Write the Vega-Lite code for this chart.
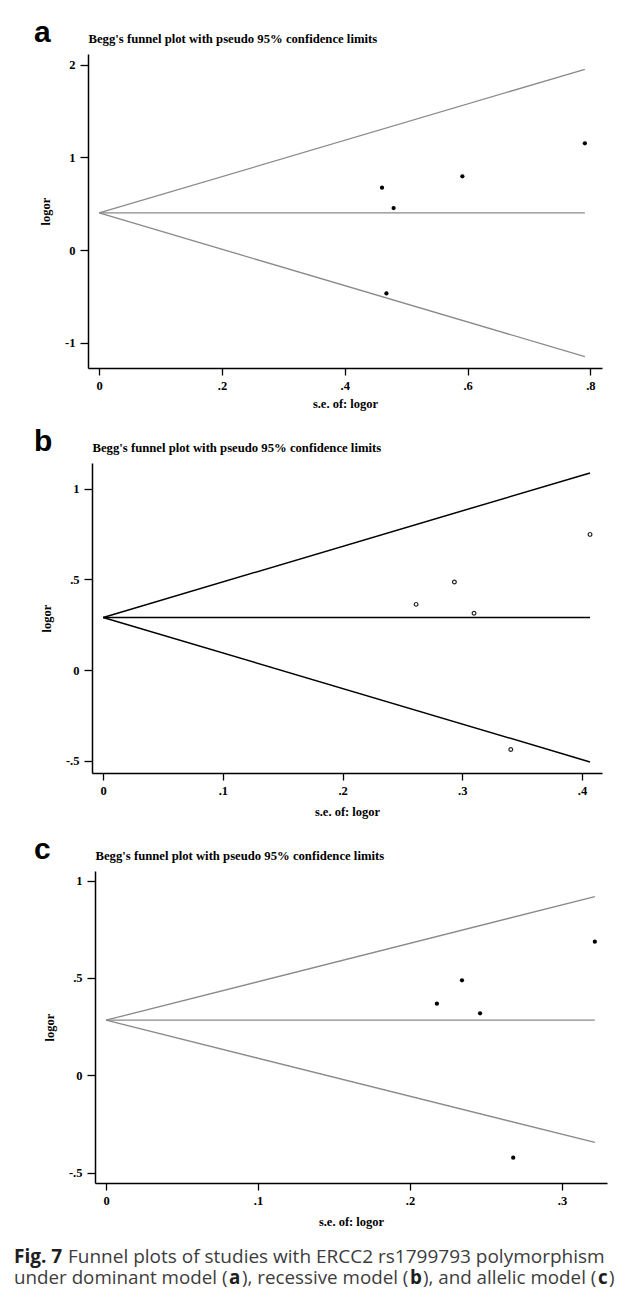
{
  "$schema": "https://vega.github.io/schema/vega-lite/v6.json",
  "background": "white",
  "padding": {"left": 14, "top": 18, "right": 5, "bottom": 10},
  "spacing": 17,
  "config": {
    "view": {"stroke": null},
    "axis": {
      "grid": false,
      "domainColor": "#000000",
      "domainWidth": 1.5,
      "tickColor": "#000000",
      "tickWidth": 1.3,
      "labelFont": "Liberation Serif",
      "labelFontWeight": "bold",
      "labelFontSize": 12.5,
      "labelColor": "#000000",
      "titleFont": "Liberation Serif",
      "titleFontWeight": "bold",
      "titleFontSize": 12.5,
      "titleColor": "#000000",
      "labelExpr": "replace(replace(format(datum.value, '~g'), '0.', '.'), '\u2212', '-')"
    },
    "axisX": {"tickSize": 7, "labelPadding": 4, "titlePadding": 6},
    "axisY": {"tickSize": 8, "labelPadding": 5, "titlePadding": 12, "labelAngle": 0},
    "title": {
      "anchor": "start",
      "frame": "group",
      "font": "Liberation Sans",
      "fontWeight": "bold",
      "fontSize": 30,
      "color": "#000000",
      "baseline": "alphabetic",
      "offset": -16
    }
  },
  "datasets": {
    "none": [],
    "a_lines": [
      {"se": 0, "logor": 0.4, "se2": 0.791, "logor2": 1.95},
      {"se": 0, "logor": 0.4, "se2": 0.791, "logor2": 0.4},
      {"se": 0, "logor": 0.4, "se2": 0.791, "logor2": -1.15}
    ],
    "a_points": [
      {"se": 0.4606, "logor": 0.673},
      {"se": 0.4795, "logor": 0.453},
      {"se": 0.5915, "logor": 0.795},
      {"se": 0.791, "logor": 1.151},
      {"se": 0.4678, "logor": -0.468}
    ],
    "b_lines": [
      {"se": 0, "logor": 0.29, "se2": 0.4067, "logor2": 1.087},
      {"se": 0, "logor": 0.29, "se2": 0.4067, "logor2": 0.29},
      {"se": 0, "logor": 0.29, "se2": 0.4067, "logor2": -0.507}
    ],
    "b_points": [
      {"se": 0.2614, "logor": 0.362},
      {"se": 0.2934, "logor": 0.485},
      {"se": 0.3098, "logor": 0.313},
      {"se": 0.4067, "logor": 0.748},
      {"se": 0.3405, "logor": -0.438}
    ],
    "c_lines": [
      {"se": 0, "logor": 0.283, "se2": 0.3216, "logor2": 0.918},
      {"se": 0, "logor": 0.283, "se2": 0.3216, "logor2": 0.283},
      {"se": 0, "logor": 0.283, "se2": 0.3216, "logor2": -0.345}
    ],
    "c_points": [
      {"se": 0.2177, "logor": 0.368},
      {"se": 0.2342, "logor": 0.488},
      {"se": 0.2461, "logor": 0.318},
      {"se": 0.3216, "logor": 0.686},
      {"se": 0.2679, "logor": -0.423}
    ]
  },
  "vconcat": [
    {
      "hconcat": [
        {"width": 1, "height": 1, "data": {"name": "none"}, "mark": "point"},
        {
          "width": 514,
          "height": 314,
          "title": {"text": "a", "dx": -54},
          "resolve": {"axis": {"x": "independent"}},
          "layer": [
            {
              "data": {"name": "a_lines"},
              "mark": {"type": "rule", "color": "#8a8a8a", "strokeWidth": 1.3},
              "encoding": {
                "x": {"field": "se", "type": "quantitative", "title": "s.e. of: logor",
                      "scale": {"domain": [-0.01824, 0.81889], "nice": false, "zero": false},
                      "axis": {"values": [0, 0.2, 0.4, 0.6, 0.8]}},
                "y": {"field": "logor", "type": "quantitative", "title": "logor",
                      "scale": {"domain": [-1.273, 2.115], "nice": false, "zero": false},
                      "axis": {"values": [-1, 0, 1, 2]}},
                "x2": {"field": "se2"},
                "y2": {"field": "logor2"}
              }
            },
            {
              "data": {"name": "a_points"},
              "mark": {"type": "point", "filled": true, "size": 18, "color": "#000000", "opacity": 1},
              "encoding": {
                "x": {"field": "se", "type": "quantitative", "title": "Begg's funnel plot with pseudo 95% confidence limits",
                      "axis": {"orient": "top", "labels": false, "ticks": false, "domain": false, "minExtent": 0, "maxExtent": 0,
                               "titleAnchor": "start", "titleAlign": "left", "titleBaseline": "alphabetic", "titlePadding": 12, "titleFontSize": 12.7}},
                "y": {"field": "logor", "type": "quantitative", "title": "logor"}
              }
            }
          ]
        }
      ],
      "spacing": 19
    },
    {
      "hconcat": [
        {"width": 1, "height": 1, "data": {"name": "none"}, "mark": "point"},
        {
          "width": 510,
          "height": 310,
          "title": {"text": "b", "dx": -58},
          "resolve": {"axis": {"x": "independent"}},
          "layer": [
            {
              "data": {"name": "b_lines"},
              "mark": {"type": "rule", "color": "#000000", "strokeWidth": 1.5},
              "encoding": {
                "x": {"field": "se", "type": "quantitative", "title": "s.e. of: logor",
                      "scale": {"domain": [-0.00936, 0.41671], "nice": false, "zero": false},
                      "axis": {"values": [0, 0.1, 0.2, 0.3, 0.4], "titlePadding": 9}},
                "y": {"field": "logor", "type": "quantitative", "title": "logor",
                      "scale": {"domain": [-0.568, 1.1417], "nice": false, "zero": false},
                      "axis": {"values": [-0.5, 0, 0.5, 1]}},
                "x2": {"field": "se2"},
                "y2": {"field": "logor2"}
              }
            },
            {
              "data": {"name": "b_points"},
              "mark": {"type": "point", "filled": false, "size": 14, "strokeWidth": 1.2, "color": "#222222", "opacity": 1},
              "encoding": {
                "x": {"field": "se", "type": "quantitative", "title": "Begg's funnel plot with pseudo 95% confidence limits",
                      "axis": {"orient": "top", "labels": false, "ticks": false, "domain": false, "minExtent": 0, "maxExtent": 0,
                               "titleAnchor": "start", "titleAlign": "left", "titleBaseline": "alphabetic", "titlePadding": 12, "titleFontSize": 12.7}},
                "y": {"field": "logor", "type": "quantitative", "title": "logor"}
              }
            }
          ]
        }
      ],
      "spacing": 19
    },
    {
      "hconcat": [
        {"width": 1, "height": 1, "data": {"name": "none"}, "mark": "point"},
        {
          "width": 512,
          "height": 312,
          "title": {"text": "c", "dx": -61},
          "resolve": {"axis": {"x": "independent"}},
          "layer": [
            {
              "data": {"name": "c_lines"},
              "mark": {"type": "rule", "color": "#8a8a8a", "strokeWidth": 1.3},
              "encoding": {
                "x": {"field": "se", "type": "quantitative", "title": "s.e. of: logor",
                      "scale": {"domain": [-0.00724, 0.32961], "nice": false, "zero": false},
                      "axis": {"values": [0, 0.1, 0.2, 0.3], "titlePadding": 9}},
                "y": {"field": "logor", "type": "quantitative", "title": "logor",
                      "scale": {"domain": [-0.553, 1.049], "nice": false, "zero": false},
                      "axis": {"values": [-0.5, 0, 0.5, 1]}},
                "x2": {"field": "se2"},
                "y2": {"field": "logor2"}
              }
            },
            {
              "data": {"name": "c_points"},
              "mark": {"type": "point", "filled": true, "size": 18, "color": "#000000", "opacity": 1},
              "encoding": {
                "x": {"field": "se", "type": "quantitative", "title": "Begg's funnel plot with pseudo 95% confidence limits",
                      "axis": {"orient": "top", "labels": false, "ticks": false, "domain": false, "minExtent": 0, "maxExtent": 0,
                               "titleAnchor": "start", "titleAlign": "left", "titleBaseline": "alphabetic", "titlePadding": 12, "titleFontSize": 12.7}},
                "y": {"field": "logor", "type": "quantitative", "title": "logor"}
              }
            }
          ]
        }
      ],
      "spacing": 19
    },
    {
      "vconcat": [
        {
          "hconcat": [
            {"width": 1, "height": 1, "data": {"name": "none"}, "mark": "point",
             "title": {"text": "Fig. 7", "orient": "bottom", "offset": 2, "baseline": "top", "dx": 0, "font": "Open Sans", "fontWeight": "bold", "fontSize": 19, "color": "#1e1e1e"}},
            {"width": 1, "height": 1, "data": {"name": "none"}, "mark": "point",
             "title": {"text": "Funnel plots of studies with ERCC2 rs1799793 polymorphism", "orient": "bottom", "offset": 2, "baseline": "top", "dx": 0, "font": "Open Sans", "fontWeight": "normal", "fontSize": 19, "color": "#3c3c3c"}}
          ],
          "spacing": 5
        },
        {
          "hconcat": [
            {"width": 1, "height": 1, "data": {"name": "none"}, "mark": "point",
             "title": {"text": "under dominant model (", "orient": "bottom", "offset": 0, "baseline": "top", "dx": 0, "font": "Open Sans", "fontWeight": "normal", "fontSize": 18.8, "color": "#3c3c3c"}},
            {"width": 1, "height": 1, "data": {"name": "none"}, "mark": "point",
             "title": {"text": "a", "orient": "bottom", "offset": 0, "baseline": "top", "dx": 0, "font": "Open Sans", "fontWeight": "bold", "fontSize": 18.8, "color": "#1e1e1e"}},
            {"width": 1, "height": 1, "data": {"name": "none"}, "mark": "point",
             "title": {"text": "), recessive model (", "orient": "bottom", "offset": 0, "baseline": "top", "dx": 0, "font": "Open Sans", "fontWeight": "normal", "fontSize": 18.8, "color": "#3c3c3c"}},
            {"width": 1, "height": 1, "data": {"name": "none"}, "mark": "point",
             "title": {"text": "b", "orient": "bottom", "offset": 0, "baseline": "top", "dx": 0, "font": "Open Sans", "fontWeight": "bold", "fontSize": 18.8, "color": "#1e1e1e"}},
            {"width": 1, "height": 1, "data": {"name": "none"}, "mark": "point",
             "title": {"text": "), and allelic model (", "orient": "bottom", "offset": 0, "baseline": "top", "dx": 0, "font": "Open Sans", "fontWeight": "normal", "fontSize": 18.8, "color": "#3c3c3c"}},
            {"width": 1, "height": 1, "data": {"name": "none"}, "mark": "point",
             "title": {"text": "c", "orient": "bottom", "offset": 0, "baseline": "top", "dx": 0, "font": "Open Sans", "fontWeight": "bold", "fontSize": 18.8, "color": "#1e1e1e"}},
            {"width": 1, "height": 1, "data": {"name": "none"}, "mark": "point",
             "title": {"text": ")", "orient": "bottom", "offset": 0, "baseline": "top", "dx": 0, "font": "Open Sans", "fontWeight": "normal", "fontSize": 18.8, "color": "#3c3c3c"}}
          ],
          "spacing": 1
        }
      ],
      "spacing": 1
    }
  ]
}
